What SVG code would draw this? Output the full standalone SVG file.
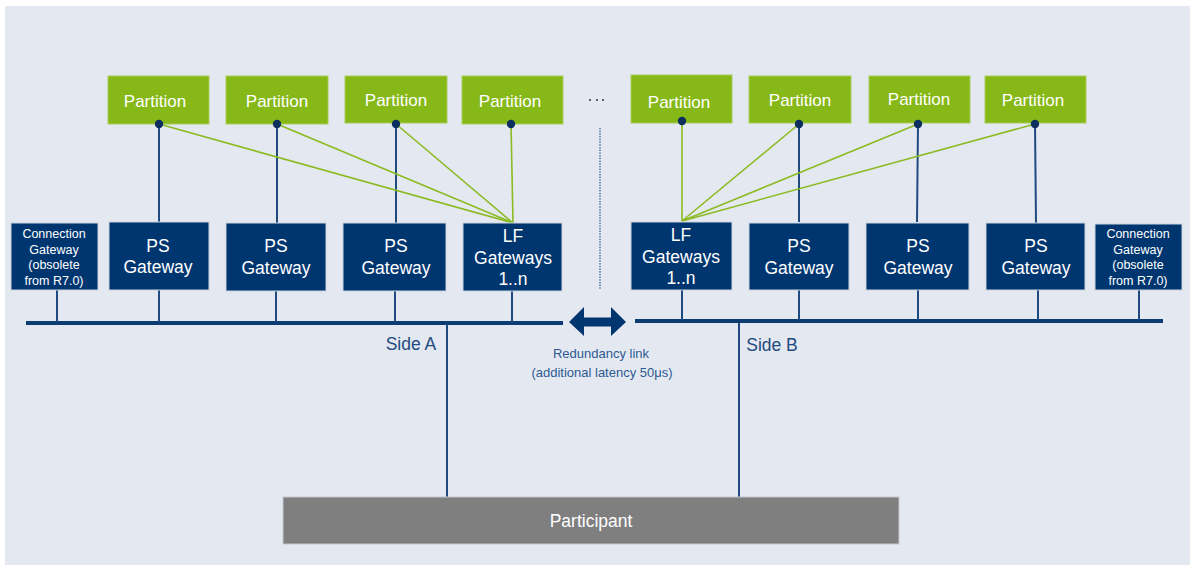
<svg xmlns="http://www.w3.org/2000/svg" width="1190" height="565" viewBox="0 0 1190 565">
<style>
.part rect{fill:#86B817;stroke:#A9CC5A;stroke-width:1}
.gw rect{fill:#003670;stroke:#C9D3E0;stroke-width:1}
text{font-family:"Liberation Sans",Arial,sans-serif;text-anchor:middle;fill:#fff}
.pt{font-size:17px}
.gt{font-size:17.5px}
.ct{font-size:12.5px}
.blue{stroke:#1F4A80;stroke-width:2;fill:none}
.green{stroke:#8BBA22;stroke-width:1.6;fill:none}
.bus{stroke:#0D3C73;stroke-width:4;fill:none}
.lbl{fill:#1F4A80;font-size:17.5px}
.rl{fill:#2E5A92;font-size:13px}
</style>
<rect x="5" y="6" width="1185" height="559" fill="#E4E9F1"/>

<g id="connectors">
  <line class="bus" x1="26" y1="323" x2="563" y2="323"/>
  <line class="bus" x1="635" y1="321" x2="1163" y2="321"/>
  <line class="blue" x1="57" y1="290" x2="57" y2="322"/>
  <line class="blue" x1="159" y1="290" x2="159" y2="322"/>
  <line class="blue" x1="276" y1="291" x2="276" y2="322"/>
  <line class="blue" x1="395" y1="291" x2="395" y2="322"/>
  <line class="blue" x1="512" y1="291" x2="512" y2="322"/>
  <line class="blue" x1="682" y1="289" x2="682" y2="320"/>
  <line class="blue" x1="799" y1="290" x2="799" y2="320"/>
  <line class="blue" x1="918" y1="290" x2="918" y2="320"/>
  <line class="blue" x1="1038" y1="290" x2="1038" y2="320"/>
  <line class="blue" x1="1139" y1="290" x2="1139" y2="320"/>
  <line class="blue" x1="447" y1="324" x2="447" y2="497"/>
  <line class="blue" x1="739" y1="323" x2="739" y2="497"/>
  <line class="blue" x1="159" y1="124" x2="159" y2="222"/>
  <line class="blue" x1="277" y1="124" x2="277" y2="223"/>
  <line class="blue" x1="396" y1="124" x2="396" y2="223"/>
  <line class="blue" x1="799" y1="124" x2="799" y2="222"/>
  <line class="blue" x1="918" y1="124" x2="917" y2="222"/>
  <line class="blue" x1="1035" y1="124" x2="1036" y2="223"/>
  <line class="green" x1="159" y1="124" x2="513" y2="223"/>
  <line class="green" x1="277" y1="124" x2="513" y2="223"/>
  <line class="green" x1="396" y1="124" x2="513" y2="223"/>
  <line class="green" x1="511" y1="124" x2="513" y2="223"/>
  <line class="green" x1="682" y1="121" x2="682" y2="221"/>
  <line class="green" x1="799" y1="124" x2="682" y2="221"/>
  <line class="green" x1="918" y1="124" x2="682" y2="221"/>
  <line class="green" x1="1035" y1="124" x2="682" y2="221"/>
  <line x1="600" y1="128" x2="600" y2="290" stroke="#2E5A92" stroke-width="1.2" stroke-dasharray="1.5 1.2"/>
  <polygon points="569,322 584,307 584,317.5 611,317.5 611,307 626,322 611,336 611,326.5 584,326.5 584,336" fill="#003670"/>
</g>

<g id="ellipsis" fill="#333">
  <circle cx="590" cy="100" r="1"/>
  <circle cx="597" cy="100" r="1"/>
  <circle cx="603" cy="100" r="1"/>
</g>

<g id="partition1" class="part"><rect x="108" y="76" width="101" height="48"/><text class="pt" x="155" y="107">Partition</text></g>
<g id="partition2" class="part"><rect x="226" y="76" width="102" height="48"/><text class="pt" x="277" y="107">Partition</text></g>
<g id="partition3" class="part"><rect x="345" y="76" width="102" height="47"/><text class="pt" x="396" y="106">Partition</text></g>
<g id="partition4" class="part"><rect x="462" y="76" width="101" height="48"/><text class="pt" x="510" y="107">Partition</text></g>
<g id="partition5" class="part"><rect x="631" y="75" width="101" height="48"/><text class="pt" x="679" y="108">Partition</text></g>
<g id="partition6" class="part"><rect x="749" y="76" width="102" height="47"/><text class="pt" x="800" y="106">Partition</text></g>
<g id="partition7" class="part"><rect x="869" y="76" width="101" height="47"/><text class="pt" x="919" y="105">Partition</text></g>
<g id="partition8" class="part"><rect x="985" y="76" width="101" height="47"/><text class="pt" x="1033" y="106">Partition</text></g>

<g id="dots" fill="#0D2F5E">
  <circle cx="159" cy="124" r="4.2"/>
  <circle cx="277" cy="124" r="4.2"/>
  <circle cx="396" cy="124" r="4.2"/>
  <circle cx="511" cy="124" r="4.2"/>
  <circle cx="682" cy="121" r="4.2"/>
  <circle cx="799" cy="124" r="4.2"/>
  <circle cx="918" cy="124" r="4.2"/>
  <circle cx="1035" cy="124" r="4.2"/>
</g>

<g id="conn-gw-a" class="gw"><rect x="11" y="223" width="87" height="67"/>
  <text class="ct" x="54" y="238">Connection</text><text class="ct" x="54" y="253.5">Gateway</text><text class="ct" x="54" y="269">(obsolete</text><text class="ct" x="54" y="284.5">from R7.0)</text></g>
<g id="ps-gw-1" class="gw"><rect x="109" y="222" width="100" height="68"/>
  <text class="gt" x="158" y="252">PS</text><text class="gt" x="158" y="273">Gateway</text></g>
<g id="ps-gw-2" class="gw"><rect x="226" y="223" width="100" height="68"/>
  <text class="gt" x="276" y="252">PS</text><text class="gt" x="276" y="274">Gateway</text></g>
<g id="ps-gw-3" class="gw"><rect x="343" y="223" width="103" height="68"/>
  <text class="gt" x="396" y="252">PS</text><text class="gt" x="396" y="274">Gateway</text></g>
<g id="lf-gw-a" class="gw"><rect x="463" y="223" width="99" height="68"/>
  <text class="gt" x="513" y="242">LF</text><text class="gt" x="513" y="264">Gateways</text><text class="gt" x="513" y="285">1..n</text></g>
<g id="lf-gw-b" class="gw"><rect x="631" y="222" width="101" height="68"/>
  <text class="gt" x="681" y="241">LF</text><text class="gt" x="681" y="263">Gateways</text><text class="gt" x="681" y="284">1..n</text></g>
<g id="ps-gw-4" class="gw"><rect x="749" y="223" width="100" height="67"/>
  <text class="gt" x="799" y="252">PS</text><text class="gt" x="799" y="274">Gateway</text></g>
<g id="ps-gw-5" class="gw"><rect x="866" y="223" width="103" height="67"/>
  <text class="gt" x="918" y="252">PS</text><text class="gt" x="918" y="274">Gateway</text></g>
<g id="ps-gw-6" class="gw"><rect x="986" y="223" width="99" height="67"/>
  <text class="gt" x="1036" y="252">PS</text><text class="gt" x="1036" y="274">Gateway</text></g>
<g id="conn-gw-b" class="gw"><rect x="1095" y="224" width="87" height="66"/>
  <text class="ct" x="1138" y="238">Connection</text><text class="ct" x="1138" y="253.5">Gateway</text><text class="ct" x="1138" y="269">(obsolete</text><text class="ct" x="1138" y="284.5">from R7.0)</text></g>

<g id="participant"><rect x="283" y="497" width="616" height="47" fill="#7F7F7F" stroke="#C3C8CE" stroke-width="1"/>
  <text x="591" y="527" style="font-size:17.5px">Participant</text></g>

<g id="labels">
  <text class="lbl" x="411" y="350">Side A</text>
  <text class="lbl" x="772" y="351">Side B</text>
  <text class="rl" x="601" y="358">Redundancy link</text>
  <text class="rl" x="602" y="377">(additional latency 50μs)</text>
</g>
</svg>
